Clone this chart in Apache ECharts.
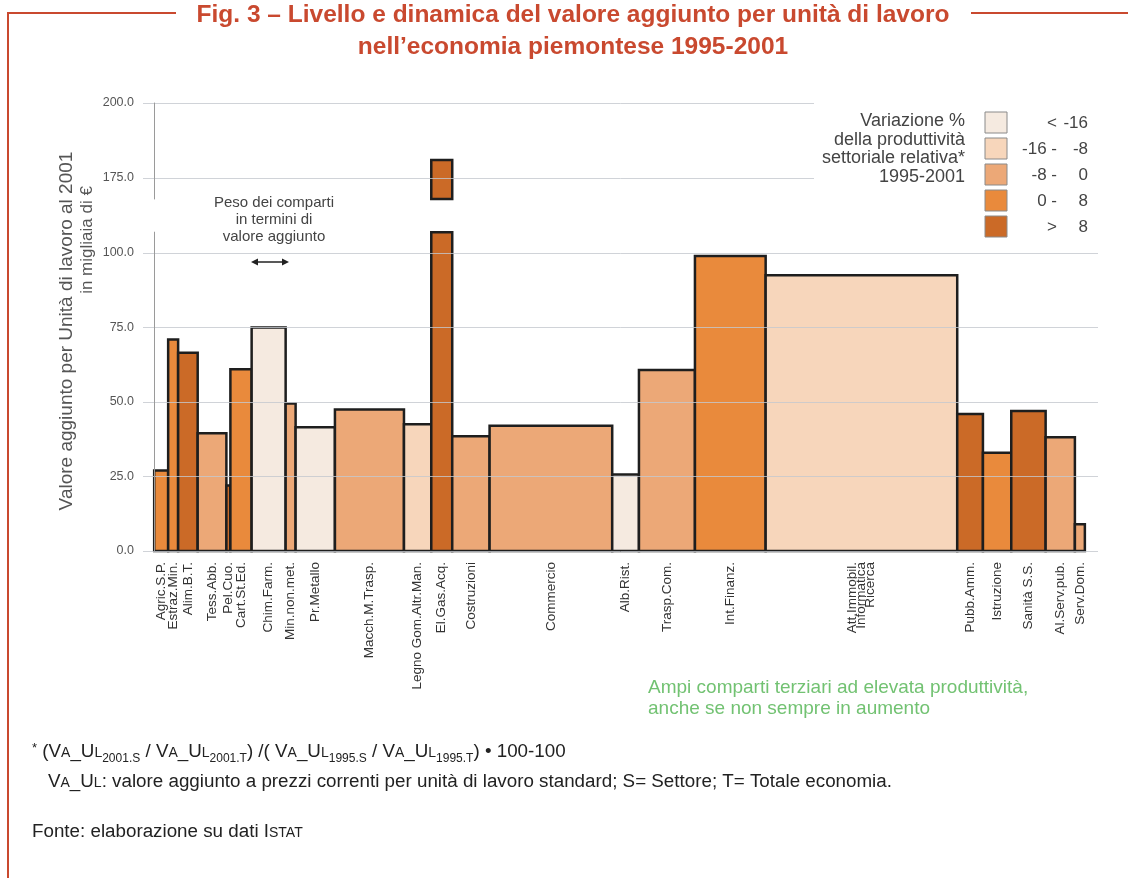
<!DOCTYPE html>
<html><head><meta charset="utf-8">
<script src="https://cdn.jsdelivr.net/npm/echarts@6/dist/echarts.min.js"></script>
<style>html,body{margin:0;padding:0;background:#fff}#c{width:1128px;height:878px}</style>
</head><body><div id="c"></div><script>
// ---- data ----
const categories = ['Agric.S.P.', 'Estraz.Min.', 'Alim.B.T.', 'Tess.Abb.', 'Pel.Cuo.', 'Cart.St.Ed.',
  'Chim.Farm.', 'Min.non.met.', 'Pr.Metallo', 'Macch.M.Trasp.', 'Legno Gom.Altr.Man.', 'El.Gas.Acq.',
  'Costruzioni', 'Commercio', 'Alb.Rist.', 'Trasp.Com.', 'Int.Finanz.', 'Att.Immobil.\nInformatica\nRicerca',
  'Pubb.Amm.', 'Istruzione', 'Sanità S.S.', 'Al.Serv.pub.', 'Serv.Dom.'];
// weight of each sector in value added (bar width, %)
const shares = [1.5, 1.07, 2.1, 3.08, 0.43, 2.28, 3.65, 1.07, 4.22, 7.41, 2.93, 2.25,
  4.01, 13.16, 2.87, 6.01, 7.59, 20.56, 2.76, 3.04, 3.69, 3.14, 1.07];
// value added per labour unit 2001, thousand €
const values = [27, 71, 66.5, 39.5, 22, 61, 75, 49.5, 41.5, 47.5, 42.5, 181,
  38.5, 42, 25.7, 60.7, 99, 92.5, 46, 33, 47, 38.2, 9];
// class of relative productivity change 1995-2001 (index in classLabels)
const classIdx = [3, 3, 4, 2, 4, 3, 0, 2, 0, 2, 1, 4, 2, 2, 0, 2, 3, 1, 4, 3, 4, 2, 2];
const classLabels = [['<', '-16'], ['-16 -', '-8'], ['-8 -', '0'], ['0 -', '8'], ['>', '8']];
const classColors = ['#F5EAE0', '#F7D6BB', '#ECA877', '#E98A3C', '#CB6A27'];
const legendTitle = 'Variazione %\ndella produttività\nsettoriale relativa*\n1995-2001';
// broken value axis: lower part 0..BREAK_START, upper part BREAK_END..200
const BREAK_START = 107, BREAK_END = 168;
const yTicksLower = [0, 25, 50, 75, 100];
const yTicksUpper = [175, 200];

const FONT = '"Liberation Sans", Arial, Helvetica, sans-serif';

// ---- build data ----
let acc = 0;
const data = shares.map((s, i) => {
  const item = [acc, acc + s, values[i], classIdx[i], i];
  acc += s;
  return item;
});

function barRect(api, x0, x1, a, b, c) {
  const p0 = api.coord([x0, a]);
  const p1 = api.coord([x1, b]);
  return {
    type: 'rect',
    shape: { x: p0[0], y: p1[1], width: p1[0] - p0[0], height: p0[1] - p1[1] },
    style: { fill: classColors[c], stroke: '#1e1e1e', lineWidth: 2.5 }
  };
}
function renderLower(params, api) {
  const x0 = api.value(0), x1 = api.value(1), v = api.value(2);
  const c = api.value(3), i = api.value(4);
  const children = [barRect(api, x0, x1, 0, Math.min(v, BREAK_START), c)];
  const base = api.coord([(x0 + x1) / 2, 0]);
  children.push({
    type: 'text', x: base[0], y: base[1] + 11, rotation: Math.PI / 2,
    style: { text: categories[i], align: 'right', verticalAlign: 'middle',
      fontSize: 13.5, lineHeight: 9, fill: '#333', fontFamily: FONT }
  });
  return { type: 'group', children };
}
function renderUpper(params, api) {
  const x0 = api.value(0), x1 = api.value(1), v = api.value(2), c = api.value(3);
  if (v <= BREAK_END) return null;
  return barRect(api, x0, x1, BREAK_END, v, c);
}

// ---- graphic (frame, title, legend, notes) ----
const frameColor = '#C9492F';
const graphics = [
  { type: 'line', shape: { x1: 7, y1: 13, x2: 176, y2: 13 }, style: { stroke: frameColor, lineWidth: 2 } },
  { type: 'line', shape: { x1: 971, y1: 13, x2: 1128, y2: 13 }, style: { stroke: frameColor, lineWidth: 2 } },
  { type: 'line', shape: { x1: 8, y1: 12, x2: 8, y2: 878 }, style: { stroke: frameColor, lineWidth: 2 } },
  { type: 'text', x: 573, y: 15.5, style: { text: 'Fig. 3 – Livello e dinamica del valore aggiunto per unità di lavoro',
      align: 'center', verticalAlign: 'middle', fontSize: 24.5, fontWeight: 'bold', fill: frameColor, fontFamily: FONT } },
  { type: 'text', x: 573, y: 47, style: { text: 'nell’economia piemontese 1995-2001',
      align: 'center', verticalAlign: 'middle', fontSize: 24.5, fontWeight: 'bold', fill: frameColor, fontFamily: FONT } },
  // y axis name
  { type: 'text', x: 67, y: 331, rotation: Math.PI / 2, style: { text: 'Valore aggiunto per Unità di lavoro al 2001',
      align: 'center', verticalAlign: 'middle', fontSize: 19, fill: '#555', fontFamily: FONT } },
  { type: 'text', x: 87, y: 240, rotation: Math.PI / 2, style: { text: 'in migliaia di €',
      align: 'center', verticalAlign: 'middle', fontSize: 17, fill: '#555', fontFamily: FONT } },
  // annotation
  { type: 'text', x: 274, y: 220, style: { text: 'Peso dei comparti\nin termini di\nvalore aggiunto',
      align: 'center', verticalAlign: 'middle', fontSize: 15, lineHeight: 17, fill: '#444', fontFamily: FONT } },
  { type: 'line', shape: { x1: 256, y1: 262, x2: 284, y2: 262 }, style: { stroke: '#222', lineWidth: 1.5 } },
  { type: 'polygon', shape: { points: [[251, 262], [258, 258.5], [258, 265.5]] }, style: { fill: '#222' } },
  { type: 'polygon', shape: { points: [[289, 262], [282, 258.5], [282, 265.5]] }, style: { fill: '#222' } },
  // legend background + title
  { type: 'rect', z: 10, shape: { x: 814, y: 96, width: 290, height: 146 }, style: { fill: '#fff' } },
  { type: 'text', z: 11, x: 965, y: 112, style: { text: legendTitle, align: 'right', verticalAlign: 'top',
      fontSize: 18, lineHeight: 18.5, fill: '#444', fontFamily: FONT } },
  // green note
  { type: 'text', x: 648, y: 677, style: { text: 'Ampi comparti terziari ad elevata produttività,\nanche se non sempre in aumento',
      align: 'left', verticalAlign: 'top', fontSize: 19, lineHeight: 21, fill: '#72C272', fontFamily: FONT } }
];
classColors.forEach((col, k) => {
  const top = 112 + k * 26;
  graphics.push({ type: 'rect', z: 11, shape: { x: 985, y: top, width: 22, height: 21 },
    style: { fill: col, stroke: '#8a8a8a', lineWidth: 1 } });
  graphics.push({ type: 'text', z: 11, x: 1057, y: top + 11, style: { text: classLabels[k][0], align: 'right',
    verticalAlign: 'middle', fontSize: 17, fill: '#444', fontFamily: FONT } });
  graphics.push({ type: 'text', z: 11, x: 1088, y: top + 11, style: { text: classLabels[k][1], align: 'right',
    verticalAlign: 'middle', fontSize: 17, fill: '#444', fontFamily: FONT } });
});
// footnotes
const rich = {
  n: { fontSize: 18.8, lineHeight: 18.8, verticalAlign: 'top', fill: '#222', fontFamily: FONT },
  sc: { fontSize: 14, lineHeight: 14, verticalAlign: 'top', padding: [4.2, 0, 0, 0], fill: '#222', fontFamily: FONT },
  sub: { fontSize: 12, lineHeight: 12, verticalAlign: 'top', padding: [10.3, 0, 0, 0], fill: '#222', fontFamily: FONT },
  sup: { fontSize: 13, lineHeight: 13, verticalAlign: 'top', fill: '#222', fontFamily: FONT }
};
const VAUL = '{n|V}{sc|A}{n|_U}{sc|L}';
graphics.push({ type: 'text', x: 32, y: 742, style: { verticalAlign: 'top', rich,
  text: '{sup|*}{n| (}' + VAUL + '{sub|2001.S}{n| / }' + VAUL + '{sub|2001.T}{n|) /( }' + VAUL +
    '{sub|1995.S}{n| / }' + VAUL + '{sub|1995.T}{n|) • 100-100}' } });
graphics.push({ type: 'text', x: 48, y: 772, style: { verticalAlign: 'top', rich,
  text: VAUL + '{n|: valore aggiunto a prezzi correnti per unità di lavoro standard; S= Settore; T= Totale economia.}' } });
graphics.push({ type: 'text', x: 32, y: 822, style: { verticalAlign: 'top', rich,
  text: '{n|Fonte: elaborazione su dati I}{sc|STAT}' } });

const yCommon = {
  type: 'value', z: 3,
  axisLine: { show: true, lineStyle: { color: '#9a9a9a', width: 1 } },
  axisTick: { show: false },
  axisLabel: { fontSize: 12.5, color: '#555', margin: 9, fontFamily: FONT, formatter: v => v.toFixed(1) },
  splitLine: { show: true, lineStyle: { color: 'rgba(196,200,206,0.8)', width: 1 } }
};
const lowerTop = 551 - BREAK_START * (298 / 100);
const upperBottom = 878 - (103 + (200 - BREAK_END) * 3);

const chart = echarts.init(document.getElementById('c'), null, { renderer: 'canvas' });
chart.setOption({
  animation: false,
  backgroundColor: '#fff',
  grid: [
    { left: 143, right: 30, top: lowerTop, bottom: 327 },
    { left: 143, right: 30, top: 103, bottom: upperBottom }
  ],
  xAxis: [
    { type: 'value', gridIndex: 0, min: -1.2, max: 101.3, show: false },
    { type: 'value', gridIndex: 1, min: -1.2, max: 101.3, show: false }
  ],
  yAxis: [
    Object.assign({}, yCommon, { gridIndex: 0, min: 0, max: BREAK_START,
      axisTick: { show: false, customValues: yTicksLower },
      axisLabel: Object.assign({}, yCommon.axisLabel, { customValues: yTicksLower }) }),
    Object.assign({}, yCommon, { gridIndex: 1, min: BREAK_END, max: 200,
      axisTick: { show: false, customValues: yTicksUpper },
      axisLabel: Object.assign({}, yCommon.axisLabel, { customValues: yTicksUpper }) })
  ],
  series: [
    { type: 'custom', renderItem: renderLower, clip: false, z: 2, xAxisIndex: 0, yAxisIndex: 0,
      encode: { x: [0, 1], y: 2 }, data },
    { type: 'custom', renderItem: renderUpper, clip: false, z: 2, xAxisIndex: 1, yAxisIndex: 1,
      encode: { x: [0, 1], y: 2 }, data }
  ],
  graphic: graphics
});
</script></body></html>
